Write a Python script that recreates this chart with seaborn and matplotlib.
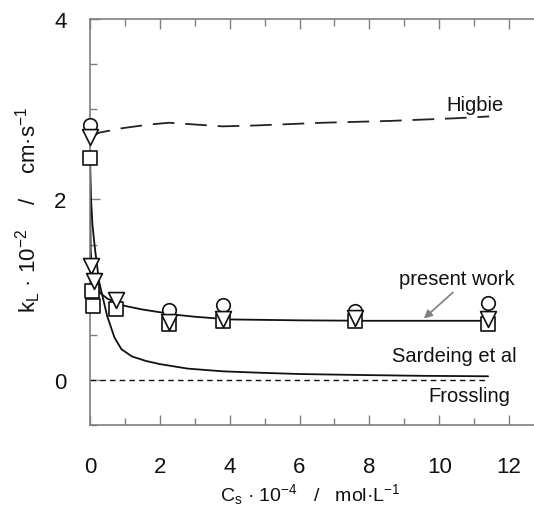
import numpy as np
import pandas as pd
import matplotlib
matplotlib.use("Agg")
import matplotlib.pyplot as plt
import seaborn as sns

# Measured mass-transfer coefficients (open symbols), three runs
cs_circle = [0.0, 2.25, 3.8, 7.6, 11.4]
kl_circle = [2.82, 0.77, 0.83, 0.76, 0.85]

cs_tri = [0.0, 0.03, 0.12, 0.75, 2.25, 3.8, 7.6, 11.4]
kl_tri = [2.69, 1.26, 1.10, 0.88, 0.64, 0.68, 0.69, 0.67]

cs_sq = [0.0, 0.05, 0.10, 0.75, 2.25, 3.8, 7.6, 11.4]
kl_sq = [2.46, 0.99, 0.82, 0.79, 0.62, 0.65, 0.65, 0.62]

# Model curves
cs_present = [0.0, 0.01, 0.02, 0.04, 0.08, 0.15, 0.3, 0.5, 0.75, 1.0, 1.5, 2.0, 2.5, 3.0, 4.0, 6.0, 8.0, 10.0, 11.4]
kl_present = [2.45, 1.75, 1.45, 1.28, 1.16, 1.05, 0.96, 0.90, 0.86, 0.82, 0.78, 0.75, 0.72, 0.70, 0.67, 0.66, 0.655, 0.655, 0.655]

cs_sardeing = [0.0, 0.03, 0.07, 0.14, 0.26, 0.49, 0.7, 0.9, 1.2, 1.6, 2.0, 2.8, 3.8, 4.8, 6.0, 7.6, 9.5, 11.4]
kl_sardeing = [2.45, 2.0, 1.72, 1.46, 1.09, 0.71, 0.47, 0.34, 0.26, 0.21, 0.175, 0.125, 0.095, 0.08, 0.065, 0.055, 0.045, 0.04]

cs_higbie = [0.0, 0.26, 0.93, 1.69, 2.26, 3.03, 3.79, 4.75, 6.65, 8.57, 10.48, 11.43]
kl_higbie = [2.68, 2.74, 2.79, 2.83, 2.85, 2.83, 2.81, 2.82, 2.85, 2.87, 2.90, 2.92]

cs_frossling = [0.0, 11.35]
kl_frossling = [0.0, 0.0]

sns.set_style("ticks")
plt.rcParams["font.family"] = ["Liberation Sans", "DejaVu Sans"]
plt.rcParams["mathtext.fontset"] = "custom"
plt.rcParams["mathtext.rm"] = "Liberation Sans"
plt.rcParams["mathtext.it"] = "Liberation Sans"

fig = plt.figure(figsize=(5.34, 5.06), dpi=100)
ax = fig.add_axes([90 / 534, 80 / 506, 454 / 534, 406 / 506])

black = "#111111"
gray = "#7f7f7f"

sns.lineplot(x=cs_present, y=kl_present, ax=ax, color=black, lw=1.3, sort=False, estimator=None)
sns.lineplot(x=cs_sardeing, y=kl_sardeing, ax=ax, color=black, lw=1.3, sort=False, estimator=None)
sns.lineplot(x=cs_higbie, y=kl_higbie, ax=ax, color="#222222", lw=1.3, sort=False,
             estimator=None, linestyle=(0, (12, 6)))
sns.lineplot(x=cs_frossling, y=kl_frossling, ax=ax, color=black, lw=1.0, sort=False,
             estimator=None, linestyle=(0, (4, 3)))

mk = dict(facecolor="white", edgecolor=black, linewidth=1.2, zorder=5, clip_on=False)
sns.scatterplot(x=cs_circle, y=kl_circle, ax=ax, marker="o", s=95, **mk)
sns.scatterplot(x=cs_sq, y=kl_sq, ax=ax, marker="s", s=115, **mk)
sns.scatterplot(x=cs_tri, y=kl_tri, ax=ax, marker="v", s=130, **mk)

ax.set_xlim(0, 13)
ax.set_ylim(-0.5, 4)

ax.set_xticks(np.arange(0, 14, 2))
ax.set_xticks(np.arange(0, 14, 1), minor=True)
ax.set_yticks([0, 2, 4])
ax.set_yticks(np.arange(-0.5, 4.01, 0.5), minor=True)

ax.tick_params(which="both", direction="in", color=gray, top=True, right=True,
               labelsize=16, labelcolor=black)
ax.tick_params(axis="x", which="major", length=7, width=1, pad=22)
ax.tick_params(axis="x", which="minor", length=5, width=1)
ax.tick_params(axis="y", which="major", length=7, width=1, pad=17)
ax.tick_params(axis="y", which="minor", length=5, width=1)

for sp in ax.spines.values():
    sp.set_color(gray)
    sp.set_linewidth(1.2)

ax.set_xlabel(r"C$_\mathregular{s}$ · 10$^\mathregular{-4}$   /   mol·L$^\mathregular{-1}$",
              fontsize=14, color=black, va="center", ha="center")
ax.xaxis.set_label_coords(220 / 454, -69 / 406)
ax.set_ylabel(r"k$_\mathregular{L}$ · 10$^\mathregular{-2}$    /    cm·s$^\mathregular{-1}$",
              fontsize=16, color=black, va="center", ha="center")
ax.yaxis.set_label_coords(-62 / 454, 216 / 406)

ax.text(10.2, 3.05, "Higbie", fontsize=14.5, color=black, ha="left", va="center")
ax.text(8.85, 1.12, "present work", fontsize=14.5, color=black, ha="left", va="center")
ax.annotate("", xy=(9.5, 0.66), xytext=(10.45, 0.99),
            arrowprops=dict(arrowstyle="-|>", color=gray, lw=1.2, mutation_scale=12))
ax.text(8.65, 0.27, "Sardeing et al", fontsize=14.5, color=black, ha="left", va="center")
ax.text(9.7, -0.17, "Frossling", fontsize=14.5, color=black, ha="left", va="center")

fig.savefig("out.png", dpi=100)
